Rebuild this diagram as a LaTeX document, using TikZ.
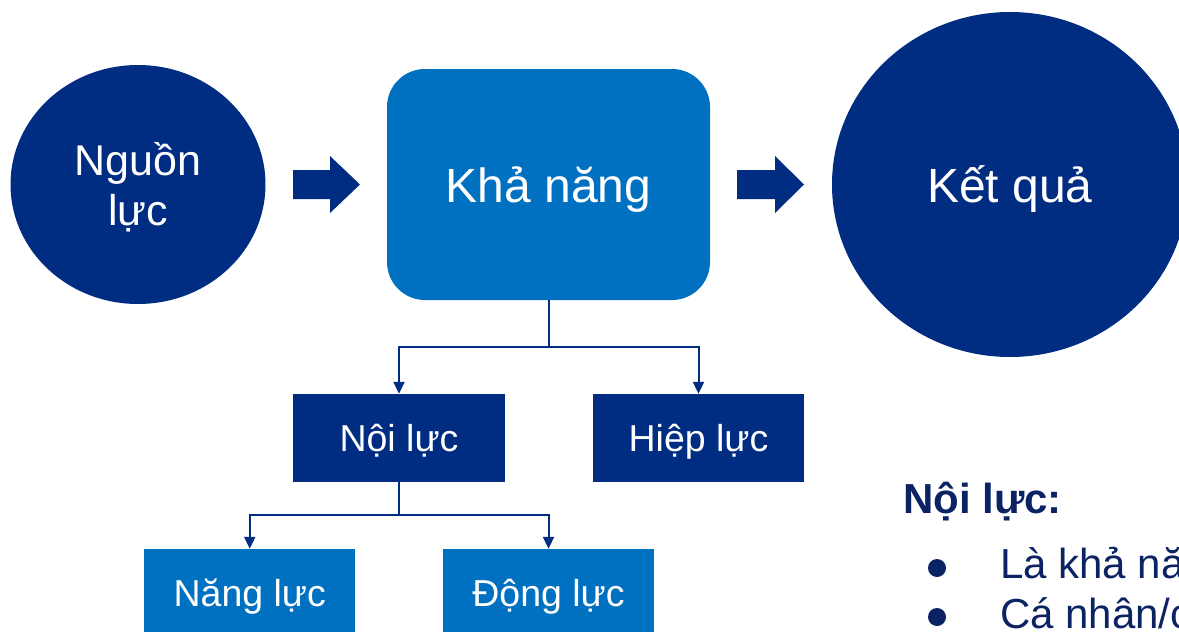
\documentclass[tikz,border=0pt]{standalone}
\usepackage{fontspec}
\setmainfont{Liberation Sans}
\usetikzlibrary{shapes.geometric,arrows.meta}
\definecolor{navy}{HTML}{002D82}
\definecolor{midblue}{HTML}{0070C0}
\definecolor{inktext}{HTML}{0B2263}
\tikzset{
  blob/.style={ellipse, fill=navy, inner sep=0pt},
  boxlabel/.style={anchor=base, text=white, inner sep=0pt},
  darkbox/.style={rectangle, fill=navy, inner sep=0pt, minimum width=212pt, minimum height=88pt},
  lightbox/.style={rectangle, fill=midblue, inner sep=0pt, minimum width=211pt, minimum height=88pt},
  trunk/.style={draw=navy, line width=2pt},
  link/.style={draw=navy, line width=2pt, -{Triangle[width=11pt,length=12pt]}},
  blockarrow/.style={fill=navy},
  dot/.style={circle, fill=inktext, inner sep=0pt, minimum size=18pt}
}
\begin{document}
\begin{tikzpicture}[x=1pt,y=-1pt]
  \useasboundingbox (0,0) rectangle (1179,632);
  \clip (0,0) rectangle (1179,632);

  % top row: source, capability, result
  \node[blob, minimum width=255pt, minimum height=239pt] (src) at (138,184.5) {};
  \node[boxlabel, align=center, font=\fontsize{43}{50}\selectfont] (srct) at (138,225) {Nguồn\\lực};

  \node[rectangle, rounded corners=38pt, fill=midblue, minimum width=323pt, minimum height=231pt, inner sep=0pt] (kn) at (548.5,184.5) {};
  \node[boxlabel, font=\fontsize{48}{50}\selectfont] (knt) at (548.5,202) {Khả năng};

  \node[blob, minimum width=356pt, minimum height=345pt] (res) at (1010,184.5) {};
  \node[boxlabel, font=\fontsize{48}{50}\selectfont] (rest) at (1010,202) {Kết quả};

  % block arrows between the top-row shapes
  \fill[blockarrow] (293,170) -- (330,170) -- (330,156) -- (360,184.5) -- (330,213) -- (330,199) -- (293,199) -- cycle;
  \fill[blockarrow] (737,170) -- (775,170) -- (775,156) -- (804,184.5) -- (775,213) -- (775,199) -- (737,199) -- cycle;

  % second level
  \node[darkbox] (noi) at (399,438) {};
  \node[boxlabel, font=\fontsize{37.5}{40}\selectfont] (noit) at (399,451.5) {Nội lực};
  \node[darkbox, minimum width=211pt] (hiep) at (698.5,438) {};
  \node[boxlabel, font=\fontsize{37.5}{40}\selectfont] (hiept) at (698.5,451.5) {Hiệp lực};

  % third level
  \node[lightbox] (nang) at (249.75,593) {};
  \node[boxlabel, font=\fontsize{37.5}{40}\selectfont] (nangt) at (249.75,606.5) {Năng lực};
  \node[lightbox] (dong) at (548.5,593) {};
  \node[boxlabel, font=\fontsize{37.5}{40}\selectfont] (dongt) at (548.5,606.5) {Động lực};

  % tree connectors
  \coordinate (j1) at (548.5,347);
  \coordinate (j2) at (399,515);
  \draw[trunk] (kn.south) -- (j1);
  \draw[link] (j1) -| (noi.north);
  \draw[link] (j1) -| (hiep.north);
  \draw[trunk] (noi.south) -- (j2);
  \draw[link] (j2) -| (nang.north);
  \draw[link] (j2) -| (dong.north);

  % side notes
  \node[anchor=base west, inner sep=0pt, text=inktext, font=\bfseries\fontsize{42}{44}\selectfont] (head) at (903,513) {Nội lực:};
  \node[dot] (b1) at (937,568) {};
  \node[anchor=base west, inner sep=0pt, text=inktext, font=\fontsize{42}{44}\selectfont] (l1) at (1000,578) {Là khả năng};
  \node[dot] (b2) at (937,617) {};
  \node[anchor=base west, inner sep=0pt, text=inktext, font=\fontsize{42}{44}\selectfont] (l2) at (1000,628) {Cá nhân/c};
\end{tikzpicture}
\end{document}
